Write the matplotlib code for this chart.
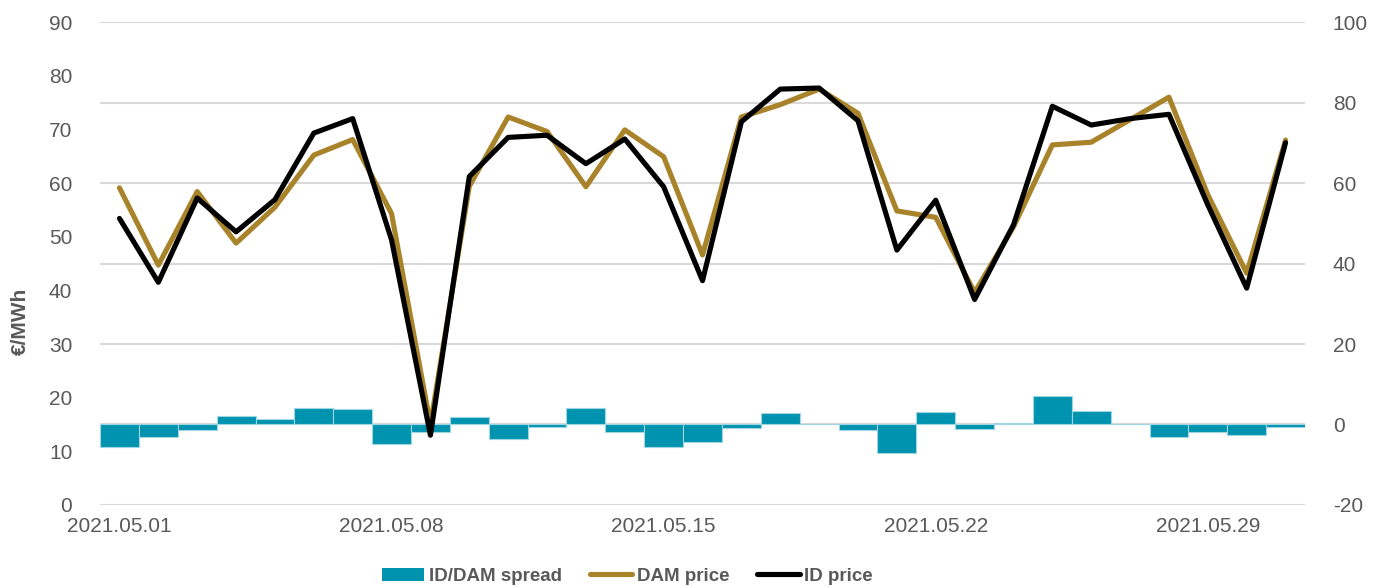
import matplotlib
matplotlib.use("Agg")
import matplotlib.pyplot as plt
import numpy as np
import pandas as pd
from matplotlib.patches import Patch
from matplotlib.lines import Line2D

dates = pd.date_range("2021-05-01", "2021-05-31", freq="D")
dam_price = [59.1, 44.7, 58.4, 48.8, 55.5, 65.2, 68.1, 54.3, 15.0, 59.4,
             72.3, 69.6, 59.3, 69.9, 64.9, 46.6, 72.3, 74.6, 77.5, 73.0,
             54.8, 53.6, 39.6, 51.8, 67.1, 67.6, 71.8, 76.0, 57.8, 43.2,
             68.0]
id_price = [53.4, 41.5, 57.2, 50.9, 56.9, 69.3, 72.0, 49.4, 13.0, 61.2,
            68.5, 68.9, 63.6, 68.2, 59.3, 41.8, 71.4, 77.5, 77.7, 71.6,
            47.5, 56.8, 38.3, 52.2, 74.3, 70.8, 72.0, 72.8, 55.9, 40.4,
            67.5]
spread = [-5.7, -3.2, -1.3, 2.1, 1.4, 4.0, 3.8, -4.9, -1.9, 1.8,
          -3.7, -0.7, 4.2, -1.8, -5.7, -4.4, -0.9, 2.8, 0.0, -1.4,
          -7.2, 3.2, -1.1, 0.4, 7.2, 3.3, 0.0, -3.2, -1.9, -2.6,
          -0.5]
left_ticks = list(range(0, 91, 10))
right_ticks = list(range(-20, 101, 20))
xtick_idx = [0, 7, 14, 21, 28]
xtick_labels = [dates[i].strftime("%Y.%m.%d") for i in xtick_idx]

TEAL = "#0093B0"
GOLD = "#A8832A"
GRAY = "#595959"

plt.rcParams["font.family"] = ["Liberation Sans", "DejaVu Sans"]
plt.rcParams["axes.unicode_minus"] = False

fig = plt.figure(figsize=(13.76, 5.87), dpi=100)
ax = fig.add_axes([0.0727, 0.1397, 0.8757, 0.8228])
ax2 = ax.twinx()

x = np.arange(len(dates))

ax2.bar(x, spread, width=1.0, color=TEAL, edgecolor="#9ed6e3", linewidth=0.8, zorder=2)
ax2.set_ylim(-20, 100)
ax2.set_yticks(right_ticks)
ax2.grid(axis="y", color="#D9D9D9", linewidth=1.5, zorder=0)
ax2.set_axisbelow(True)

ax.plot(x, dam_price, color=GOLD, lw=3.7, solid_joinstyle="round", solid_capstyle="round", zorder=3)
ax.plot(x, id_price, color="black", lw=3.7, solid_joinstyle="round", solid_capstyle="round", zorder=4)
ax.set_ylim(0, 90)
ax.set_yticks(left_ticks)
ax.set_xlim(-0.5, len(dates) - 0.5)
ax.set_xticks(xtick_idx)
ax.set_xticklabels(xtick_labels)

ax.set_zorder(ax2.get_zorder() + 1)
ax.patch.set_visible(False)

for a in (ax, ax2):
    for s in a.spines.values():
        s.set_visible(False)
    a.tick_params(length=0, labelsize=15, labelcolor=GRAY)
ax.tick_params(axis="y", pad=20)
ax2.tick_params(axis="y", pad=20)
ax.tick_params(axis="x", pad=9)

ax.set_ylabel("€/MWh", fontsize=15, fontweight="bold", color=GRAY)
ax.yaxis.set_label_coords(-0.058, 0.38)

handles = [
    Patch(facecolor=TEAL, edgecolor="none"),
    Line2D([0], [0], color=GOLD, lw=3.7, solid_capstyle="round"),
    Line2D([0], [0], color="black", lw=3.7, solid_capstyle="round"),
]
labels = ["ID/DAM spread", "DAM price", "ID price"]
leg = fig.legend(handles, labels, loc="center", bbox_to_anchor=(0.456, 0.018), ncol=3,
                 frameon=False, handlelength=2.25, handleheight=0.75, handletextpad=0.25,
                 columnspacing=1.5, prop={"size": 13.5, "weight": "bold"})
for t in leg.get_texts():
    t.set_color(GRAY)

fig.savefig("out.png", dpi=100)
